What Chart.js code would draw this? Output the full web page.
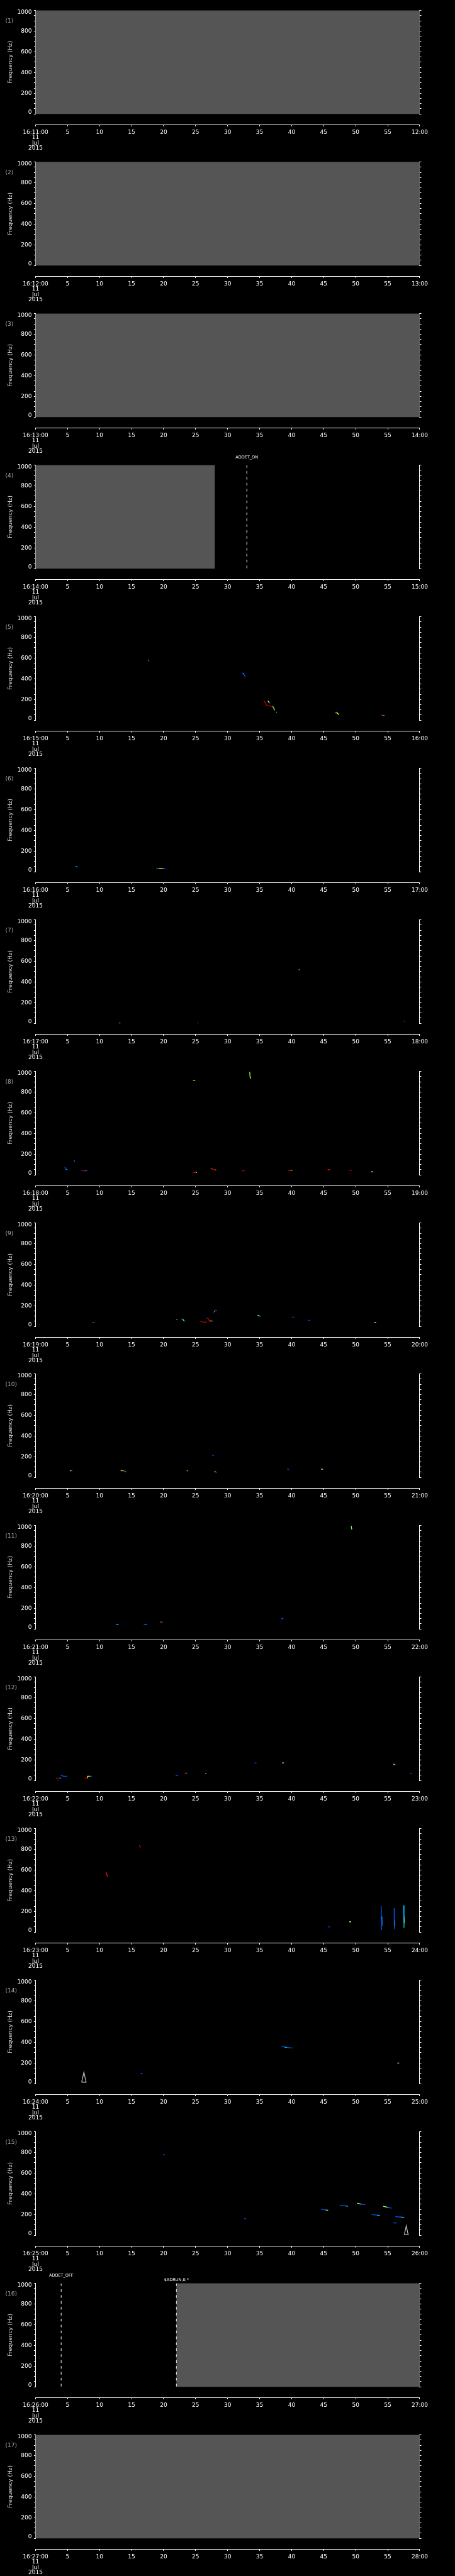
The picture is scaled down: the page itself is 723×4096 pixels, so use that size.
<!DOCTYPE html>
<html><head><meta charset="utf-8">
<script src="https://cdn.jsdelivr.net/npm/chart.js@4.4.1/dist/chart.umd.min.js"></script>
<style>
html,body{margin:0;padding:0;background:#000;}
body{width:723px;height:4096px;position:relative;overflow:hidden;}
.panel{position:absolute;left:0;width:723px;height:241px;}
canvas{display:block;}
</style></head><body>
<script>
// ---------- data ----------
const panelIds = [1,2,3,4,5,6,7,8,9,10,11,12,13,14,15,16,17];
const panelStartLabels = ['16:11:00','16:12:00','16:13:00','16:14:00','16:15:00','16:16:00','16:17:00','16:18:00','16:19:00','16:20:00','16:21:00','16:22:00','16:23:00','16:24:00','16:25:00','16:26:00','16:27:00'];
const panelEndLabels = ['12:00','13:00','14:00','15:00','16:00','17:00','18:00','19:00','20:00','21:00','22:00','23:00','24:00','25:00','26:00','27:00','28:00'];
const dateLines = ['11','Jul','2015'];
const secondTicks = [0,5,10,15,20,25,30,35,40,45,50,55,60];
const freqLabelTicks = [0,200,400,600,800,1000];

// no-data (grey) intervals, seconds
const grayPanels = [1,2,3,4,16,17];
const grayStart  = [0,0,0,0,22,0];
const grayEnd    = [60,60,60,28,60,60];

// event markers
const eventPanels = [4,16,16];
const eventTimes  = [33,4,22];
const eventLabels = ['ADDET_ON','ADDET_OFF','$ADRUN,0,*'];

// colour codes of spectrogram intensity
const colorCodes = {db:'#0000c0', b:'#0050ff', c:'#00c8ff', g:'#90ff70', y:'#ffff00', o:'#ff9000', r:'#ff1000', dr:'#c00000', w:'#b8b8b8'};

// marks: [colour, t0,f0, t1,f1, ...]  (t in s, f in Hz)
const marks5 = [
 ['c',17.6,578,17.75,572],
 ['db',32.15,462,32.35,455],['c',32.35,455,32.5,445],['b',32.5,445,32.8,418],
 ['dr',35.63,192,35.8,178,35.95,160,36.08,146,36.3,140,36.6,137,36.95,134],
 ['y',36.27,188,36.4,178],['g',36.4,178,36.5,168],['b',36.5,168,36.65,164],
 ['g',37.0,136,37.2,120],['y',37.2,120,37.3,100],['c',37.3,100,37.38,96],
 ['c',37.55,79,37.7,77],
 ['db',46.95,97,47.05,97],
 ['y',46.85,71,47.15,70,47.3,55],['g',47.25,60,47.35,54],
 ['r',54.0,49,54.3,49],['c',54.3,46,54.5,44]
];
const marks6 = [
 ['c',6.27,50,6.5,50],['b',6.5,47,6.65,46],
 ['c',18.9,30,19.08,30],['b',19.08,30,19.27,30],['g',19.27,30,19.66,30],['y',19.66,30,19.89,30],['r',19.89,30,20.01,30],['c',20.01,30,20.13,30],['db',20.13,26,20.66,26]
];
const marks7 = [
 ['y',13.0,2,13.16,2],['b',13.16,2,13.32,2],
 ['b',25.28,2,25.52,2],
 ['c',41.1,520,41.3,515],
 ['b',57.5,20,57.7,20]
];
const marks8 = [
 ['b',4.53,71,4.62,71,4.74,53],['c',4.74,53,4.9,53],['db',4.9,53,5.02,53],
 ['c',5.97,134,6.13,134],
 ['db',7.1,43,7.3,43],['dr',7.22,40,7.75,40],['c',7.75,40,7.89,40],['b',7.89,40,8.07,40],
 ['o',24.59,911,24.7,911],['y',24.7,911,24.8,911],['o',24.83,911,24.94,911],
 ['dr',24.52,23,25.05,23],['g',25.05,23,25.22,23],
 ['o',27.37,61,27.53,61],['r',27.53,57,27.69,57],['dr',27.69,52,27.88,52],['r',27.88,50,28.06,50],['o',28.06,47,28.22,47],
 ['g',33.45,995,33.5,950],['y',33.5,950,33.55,930],
 ['dr',32.2,40,32.7,40],
 ['r',39.5,45,39.9,45],['g',39.9,45,40.1,45],
 ['r',45.6,50,46.0,50],
 ['dr',49.0,45,49.4,45],
 ['g',52.4,30,52.7,30]
];
const marks9 = [
 ['o',8.9,37,9.04,37],['b',9.04,37,9.23,37],
 ['o',21.95,67,22.04,67],['b',22.04,67,22.21,67],
 ['b',22.79,73,22.95,73],['g',22.95,72,23.08,64,23.18,55],['b',23.15,52,23.41,52],
 ['r',25.79,48,25.98,48],['dr',25.98,41,26.6,41],['y',26.55,41,26.67,41],
 ['db',26.5,87,26.72,87],['dr',26.72,82,26.95,78,27.05,62,27.18,53],['o',27.18,53,27.53,53],['b',27.53,53,27.76,53],
 ['b',27.7,138,27.85,138],['o',27.96,140,28.0,152],['b',28.0,155,28.3,156],
 ['g',34.7,110,35.0,100],['b',35.0,100,35.2,100],
 ['b',40.1,90,40.4,90],
 ['b',42.6,60,42.9,60],
 ['g',52.9,40,53.2,40]
];
const marks10 = [
 ['g',5.37,64,5.6,64],['b',5.6,67,5.78,67],
 ['y',13.3,72,13.44,64],['o',13.44,64,13.88,64],['c',13.88,55,14.16,55],
 ['o',23.6,64,23.83,64],
 ['b',27.6,216,27.83,210],
 ['y',27.92,54,28.15,54],['r',28.15,51,28.34,51],
 ['b',39.3,80,39.6,80],
 ['g',44.6,80,44.9,80]
];
const marks11 = [
 ['c',12.56,46,12.84,46],['b',12.75,42,13.0,42],
 ['b',16.89,44,17.05,44],['c',17.05,44,17.23,44],['b',17.23,44,17.46,44],
 ['r',19.43,68,19.66,68],['c',19.66,65,19.82,65],
 ['b',38.4,100,38.7,100],
 ['g',49.3,995,49.4,960]
];
const marks12 = [
 ['dr',3.19,23,3.65,23],['r',3.65,23,3.75,23],['c',3.75,23,3.98,23],
 ['b',3.4,1,3.7,1],
 ['b',3.91,49,4.19,49,4.28,41],['b',4.28,41,4.93,41],
 ['dr',7.66,23,8.14,23],['y',8.14,23,8.14,41,8.44,41],['c',8.44,41,8.58,41],['b',8.58,41,8.81,41],
 ['b',21.88,49,22.28,49],
 ['dr',23.27,70,23.6,66],['c',23.48,72,23.66,72],
 ['o',26.49,70,26.6,70],['b',26.6,70,26.77,70],
 ['b',34.2,170,34.5,170],
 ['g',38.5,170,38.8,170],
 ['g',55.9,160,56.2,150],
 ['b',58.5,70,58.8,70]
];
const marks13 = [
 ['r',11.0,580,11.2,540],['b',11.2,540,11.3,530],
 ['dr',16.2,840,16.4,810],
 ['b',45.7,50,46.0,50],
 ['g',49.0,100,49.3,100],
 ['b',54.0,250,54.05,20],['c',54.05,150,54.1,60],
 ['b',56.0,230,56.05,30],['g',56.05,120,56.1,60],
 ['c',57.5,260,57.55,40],['y',57.55,150,57.6,90]
];
const marks14 = [
 ['w',7.2,15,7.55,110,7.9,15,7.2,15],
 ['b',16.4,100,16.7,100],
 ['b',38.4,360,38.8,360],['c',38.8,355,39.3,350],['b',39.3,350,40.1,345],
 ['g',56.5,200,56.8,200]
];
const marks15 = [
 ['b',19.9,780,20.2,775],
 ['b',32.6,160,32.9,160],
 ['b',44.6,250,45.3,245],['g',45.3,245,45.7,240],
 ['b',47.5,290,48.3,285],['c',48.3,285,48.8,280],
 ['g',50.2,310,50.9,300],['b',50.9,300,51.5,295],
 ['b',52.5,200,53.3,195],['c',53.3,195,53.8,190],
 ['g',54.3,280,55.0,270],['b',55.0,270,55.6,262],
 ['b',56.2,180,57.0,176],['c',57.0,176,57.6,172],
 ['b',55.8,120,56.4,118],
 ['w',57.6,5,57.9,90,58.2,5,57.6,5]
];
const marksByPanel = {5:marks5,6:marks6,7:marks7,8:marks8,9:marks9,10:marks10,11:marks11,12:marks12,13:marks13,14:marks14,15:marks15};

// ---------- drawing ----------
Chart.defaults.font.family = 'DejaVu Sans';

const decorPlugin = {
  id:'decor',
  beforeDatasetsDraw(chart){
    const p = chart.options.plugins.decor.panel;
    const {ctx, scales:{x, y}} = chart;
    ctx.save();
    ctx.fillStyle = '#555555';
    grayPanels.forEach((gp,i)=>{
      if (gp!==p) return;
      const x0 = x.getPixelForValue(grayStart[i]), x1 = x.getPixelForValue(grayEnd[i]);
      const y0 = y.getPixelForValue(1000), y1 = y.getPixelForValue(0);
      ctx.fillRect(x0, y0, x1-x0, y1-y0);
    });
    ctx.restore();
  },
  afterDraw(chart){
    const p = chart.options.plugins.decor.panel;
    const {ctx, scales:{x}} = chart;
    ctx.save();
    ctx.fillStyle = '#a8a8a8';
    ctx.font = '9px "DejaVu Sans"';
    ctx.textAlign = 'left'; ctx.textBaseline = 'middle';
    ctx.fillText('('+p+')', 8.5, 33.5);
    ctx.fillStyle = '#ffffff';
    ctx.font = '6.5px "DejaVu Sans"';
    ctx.textAlign = 'center';
    let k = 0;
    eventPanels.forEach((ep,i)=>{
      if (ep!==p) return;
      const row = k % 2; k++;
      ctx.fillText(eventLabels[i], x.getPixelForValue(eventTimes[i]), row===0 ? 4.6 : 10.9);
    });
    ctx.restore();
  }
};

const yLabel = (v)=>{
  const r = Math.round(v);
  if (!freqLabelTicks.includes(r)) return '';
  if (r===freqLabelTicks[freqLabelTicks.length-1]) return ['', String(r)];
  if (r===freqLabelTicks[0]) return [String(r), ''];
  return String(r);
};

panelIds.forEach((p, idx)=>{
  const div = document.createElement('div');
  div.className = 'panel';
  div.style.top = Math.round(idx*4096/17) + 'px';
  document.body.appendChild(div);
  const canvas = document.createElement('canvas');
  canvas.width = 723; canvas.height = 241;
  div.appendChild(canvas);

  const datasets = [];
  (marksByPanel[p]||[]).forEach(m=>{
    const pts = [];
    for (let i=1;i<m.length;i+=2) pts.push({x:m[i], y:m[i+1]});
    datasets.push({data:pts, borderColor:colorCodes[m[0]], backgroundColor:colorCodes[m[0]], borderWidth:1.3, pointRadius:0, showLine:true, fill:false});
  });
  eventPanels.forEach((ep,i)=>{
    if (ep!==p) return;
    datasets.push({data:[{x:eventTimes[i],y:1000},{x:eventTimes[i],y:0}], borderColor:'#ffffff', borderWidth:1, borderDash:[4.2,5.2], pointRadius:0, showLine:true, fill:false});
  });

  new Chart(canvas, {
    type:'scatter',
    data:{datasets},
    options:{
      responsive:false, animation:false, devicePixelRatio:1,
      layout:{padding:{left:0, right:53.5, top:16.6, bottom:0}},
      plugins:{legend:{display:false}, tooltip:{enabled:false}, decor:{panel:p}},
      scales:{
        x:{type:'linear', position:'bottom', min:secondTicks[0], max:secondTicks[secondTicks.length-1], weight:1,
          afterBuildTicks:(s)=>{ s.ticks = secondTicks.map(v=>({value:v})); },
          ticks:{autoSkip:false, maxRotation:0, minRotation:0, color:'#ffffff', padding:5.2,
            font:{family:'DejaVu Sans', size:9, lineHeight:'8.5px'},
            callback:(v)=>{ const r=Math.round(v); if (r===secondTicks[0]) return [panelStartLabels[idx]].concat(dateLines); if (r===secondTicks[secondTicks.length-1]) return panelEndLabels[idx]; return String(r);} },
          grid:{display:true, drawOnChartArea:false, drawTicks:true, tickLength:3, color:'#ffffff', lineWidth:1},
          border:{display:true, color:'#ffffff', width:1},
          afterFit:(s)=>{ s.height = 43; }
        },
        xs:{type:'linear', position:'bottom', min:0, max:60, weight:0,
          ticks:{display:false}, grid:{display:false}, border:{display:false},
          afterFit:(s)=>{ s.height = 16.8; }
        },
        y:{type:'linear', position:'left', min:0, max:1000,
          ticks:{stepSize:50, autoSkip:false, color:'#ffffff', padding:3.4, font:{family:'DejaVu Sans', size:9, lineHeight:'5.7px'},
            callback:yLabel},
          grid:{display:true, drawOnChartArea:false, drawTicks:true, tickLength:2.6, color:'#ffffff', lineWidth:1},
          border:{display:true, color:'#ffffff', width:1},
          title:{display:true, text:'Frequency (Hz)', color:'#dcdcdc', font:{family:'DejaVu Sans', size:9}, padding:{top:10.8, bottom:0}},
          afterFit:(s)=>{ s.width = 56.5; }
        },
        y2:{type:'linear', position:'right', min:0, max:1000,
          ticks:{display:false, stepSize:50},
          grid:{display:true, drawOnChartArea:false, drawTicks:true, tickLength:2.6, color:'#ffffff', lineWidth:1},
          border:{display:true, color:'#ffffff', width:1},
          afterFit:(s)=>{ s.width = 2.6; }
        }
      }
    },
    plugins:[decorPlugin]
  });
});
</script>
</body></html>
